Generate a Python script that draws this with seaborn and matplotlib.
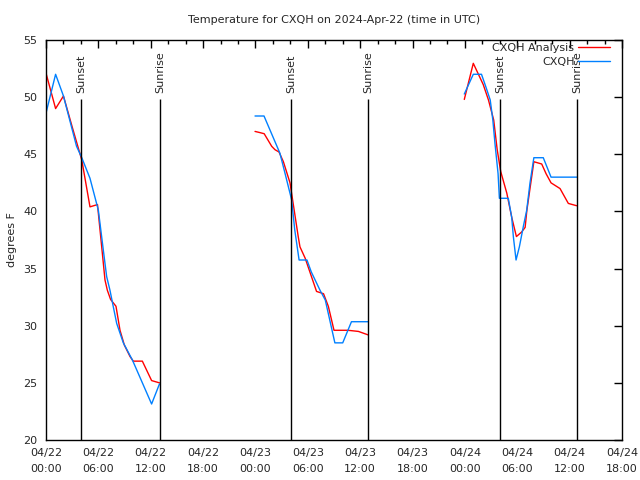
import pandas as pd
import numpy as np
import matplotlib
matplotlib.use('Agg')
import matplotlib.pyplot as plt
import matplotlib.dates as mdates
import seaborn as sns

START = pd.Timestamp('2024-04-22 00:00')
END = pd.Timestamp('2024-04-24 18:00')

# hours after 04/22 00:00 UTC
red_hours_1 = [0.0, 1.1, 2.0, 3.0, 4.1, 5.04, 5.9, 6.76, 7.03, 7.4, 8.02, 8.48, 8.98, 9.63, 10.0, 11.04, 12.1, 13.0]
red_temp_1 = [52.1, 49.0, 50.1, 47.4, 44.5, 40.4, 40.6, 34.0, 33.1, 32.3, 31.7, 29.6, 28.3, 27.3, 26.9, 26.9, 25.2, 25.0]
blue_hours_1 = [0.0, 1.1, 2.0, 3.5, 4.1, 5.04, 6.0, 6.57, 6.95, 7.33, 7.7, 8.1, 8.86, 9.9, 12.1, 13.0]
blue_temp_1 = [48.6, 52.0, 50.1, 45.7, 44.7, 42.9, 40.1, 36.6, 34.3, 33.1, 31.7, 30.2, 28.5, 27.0, 23.15, 24.9]

red_hours_2 = [23.95, 24.5, 25.0, 25.86, 26.24, 26.7, 27.2, 27.96, 28.5, 28.9, 29.1, 29.7, 31.0, 31.8, 32.35, 33.0, 34.6, 35.8, 36.9]
red_temp_2 = [47.0, 46.9, 46.8, 45.7, 45.4, 45.2, 44.35, 42.5, 39.8, 37.8, 36.9, 35.9, 33.0, 32.8, 31.7, 29.6, 29.6, 29.5, 29.2]
blue_hours_2 = [23.95, 24.98, 26.8, 27.4, 28.15, 28.5, 29.0, 29.9, 30.4, 31.4, 32.0, 33.1, 34.0, 35.0, 36.9]
blue_temp_2 = [48.35, 48.35, 45.1, 43.3, 41.0, 38.4, 35.75, 35.75, 34.7, 33.1, 32.25, 28.5, 28.5, 30.35, 30.35]

red_hours_3 = [47.93, 48.96, 50.1, 50.7, 51.3, 51.7, 52.1, 52.8, 53.36, 53.9, 54.5, 54.9, 55.1, 55.9, 56.8, 57.3, 57.87, 58.9, 59.85, 60.8]
red_temp_3 = [49.8, 52.96, 51.1, 49.75, 48.0, 45.4, 43.5, 41.6, 39.5, 37.8, 38.2, 38.6, 40.1, 44.35, 44.15, 43.3, 42.5, 42.0, 40.7, 40.5]
blue_hours_3 = [47.93, 48.96, 49.9, 50.4, 50.9, 51.2, 51.45, 51.8, 51.95, 52.97, 53.36, 53.55, 53.86, 54.24, 54.7, 55.08, 55.46, 55.9, 56.98, 57.87, 60.88]
blue_temp_3 = [50.27, 52.0, 52.0, 50.9, 49.75, 48.0, 45.9, 43.3, 41.15, 41.15, 39.5, 37.8, 35.75, 36.9, 38.7, 40.1, 42.5, 44.7, 44.7, 43.0, 43.0]

sun_hours = [4.05, 13.06, 28.1, 36.93, 52.02, 60.88]
sun_labels = ['Sunset', 'Sunrise', 'Sunset', 'Sunrise', 'Sunset', 'Sunrise']

SERIES = ['CXQH Analysis', 'CXQH']
COLORS = {'CXQH Analysis': '#ff0000', 'CXQH': '#0080ff'}


def build_frame():
    rows = []
    parts = [
        ('CXQH Analysis', 1, red_hours_1, red_temp_1),
        ('CXQH', 1, blue_hours_1, blue_temp_1),
        ('CXQH Analysis', 2, red_hours_2, red_temp_2),
        ('CXQH', 2, blue_hours_2, blue_temp_2),
        ('CXQH Analysis', 3, red_hours_3, red_temp_3),
        ('CXQH', 3, blue_hours_3, blue_temp_3),
    ]
    for name, seg, hrs, temps in parts:
        for h, t in zip(hrs, temps):
            rows.append({'series': name, 'seg': seg,
                         'time': START + pd.Timedelta(hours=h), 'temp': t})
    return pd.DataFrame(rows)


df = build_frame()

sns.set_style('white')
plt.rcParams['font.family'] = ['DejaVu Sans']

fig = plt.figure(figsize=(6.4, 4.8), dpi=100)
ax = fig.add_axes([46 / 640, 40 / 480, 576 / 640, 400 / 480])

sns.lineplot(data=df, x='time', y='temp', hue='series', units='seg',
             estimator=None, sort=False, palette=COLORS, hue_order=SERIES,
             linewidth=1, ax=ax, legend=False)

# sunset / sunrise markers
for h, lab in zip(sun_hours, sun_labels):
    t = START + pd.Timedelta(hours=h)
    ax.vlines(t, 20, 49.8, color='black', linewidth=1)
    ax.text(t, 50.4, lab, rotation=90, ha='center', va='bottom', fontsize=8)

ax.set_xlim(START, END)
ax.set_ylim(20, 55)
ax.set_yticks(np.arange(20, 56, 5))
ax.xaxis.set_major_locator(mdates.HourLocator(byhour=[0, 6, 12, 18]))
ax.xaxis.set_minor_locator(mdates.HourLocator(byhour=range(0, 24, 2)))
ax.xaxis.set_major_formatter(mdates.DateFormatter('%m/%d\n%H:%M'))
ax.tick_params(axis='both', which='both', direction='in', top=True, right=True,
               labelsize=8, color='black', pad=6)
ax.tick_params(axis='both', which='major', length=6, width=1)
ax.tick_params(axis='x', which='minor', length=3, width=1)
for lbl in ax.get_xticklabels():
    lbl.set_linespacing(1.7)
for s in ax.spines.values():
    s.set_color('black')
    s.set_linewidth(1)

ax.set_xlabel('')
ax.set_ylabel('degrees F', fontsize=8, labelpad=5)
ax.set_title('Temperature for CXQH on 2024-Apr-22 (time in UTC)', fontsize=8, pad=12)

handles = [plt.Line2D([], [], color=COLORS[n], linewidth=1) for n in SERIES]
ax.legend(handles, SERIES, loc='upper right', frameon=False, markerfirst=False,
          fontsize=8, handlelength=2.9, handletextpad=0.3, labelspacing=0.35,
          borderaxespad=0, borderpad=0,
          bbox_to_anchor=(1 - 12 / 576, 1 - 3 / 400))

plt.savefig('out.png', dpi=100)
plt.close()
